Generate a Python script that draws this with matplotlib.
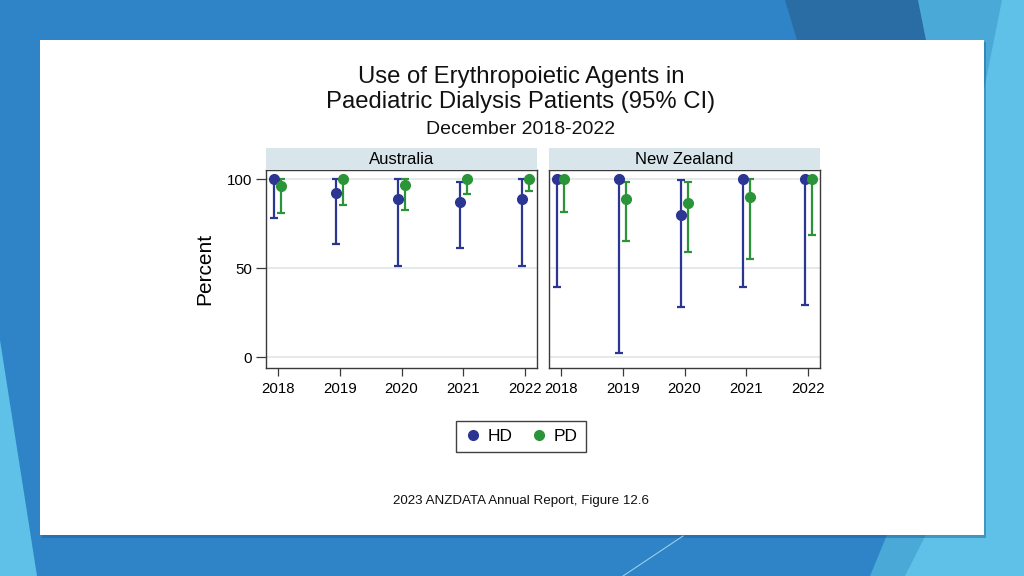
"""
Use of Erythropoietic Agents in Paediatric Dialysis Patients (95% CI)
Two-panel Stata-style dot + CI chart on a blue slide background.
"""

import matplotlib
matplotlib.use("Agg")
import matplotlib.pyplot as plt
from matplotlib.patches import Polygon, Rectangle
from matplotlib.lines import Line2D

plt.rcParams["font.family"] = ["Liberation Sans", "DejaVu Sans"]

# ── data ──────────────────────────────────────────────────────────────────────
years = [2018, 2019, 2020, 2021, 2022]
panels = ["Australia", "New Zealand"]

aus_hd = [100.0, 92.1, 88.8, 87.2, 88.8]
aus_hd_lo = [78.1, 63.8, 51.5, 61.6, 51.5]
aus_hd_hi = [100.0, 100.0, 100.0, 98.5, 100.0]
aus_pd = [96.4, 100.0, 96.6, 100.0, 100.0]
aus_pd_lo = [81.1, 85.7, 82.8, 91.6, 93.3]
aus_pd_hi = [100.0, 100.0, 100.0, 100.0, 100.0]

nz_hd = [100.0, 100.0, 79.8, 100.0, 100.0]
nz_hd_lo = [39.7, 2.2, 28.1, 39.7, 29.2]
nz_hd_hi = [100.0, 100.0, 99.6, 100.0, 100.0]
nz_pd = [100.0, 88.8, 86.5, 89.9, 100.0]
nz_pd_lo = [81.5, 65.2, 59.4, 55.4, 68.9]
nz_pd_hi = [100.0, 98.5, 98.3, 100.0, 100.0]

# ── palette ───────────────────────────────────────────────────────────────────
BG_BLUE = "#2E84C6"
DARK_BAND = "#2A6DA5"
MID_LIGHT = "#4AA9D7"
LIGHT = "#5FC1E8"
HD_COL = "#2B3592"
PD_COL = "#2B9438"
STRIP = "#D8E5EB"
GRIDC = "#E6E9EB"
FRAME = "#3A3A3A"

W, H = 1024, 576
fig = plt.figure(figsize=(W / 100, H / 100), dpi=100)
fig.patch.set_facecolor(BG_BLUE)


def px(x, y):
    # pixel coords (top-left origin) -> figure fraction
    return (x / W, 1 - y / H)


def poly(points, color, z=0):
    fig.patches.append(Polygon([px(*p) for p in points], closed=True,
                               transform=fig.transFigure, facecolor=color,
                               edgecolor="none", zorder=z))


# ── slide background decorations ──────────────────────────────────────────────
poly([(785, 0), (918, 0), (926, 40), (797, 40)], DARK_BAND)
poly([(918, 0), (1024, 0), (1024, 576), (870, 576), (984, 300), (984, 40), (926, 40)], MID_LIGHT)
poly([(1002, 0), (1024, 0), (1024, 576), (905, 576), (984, 420), (984, 90), (990, 60)], LIGHT)
poly([(0, 340), (37, 576), (0, 576)], LIGHT)
fig.add_artist(Line2D([683 / W, 623 / W], [1 - 536 / H, 0], color="#9CCBEA",
                      lw=0.8, transform=fig.transFigure))

# white card with a faint shadow
fig.patches.append(Rectangle(px(42, 538), 944 / W, 496 / H, transform=fig.transFigure,
                             facecolor="#1F5F93", alpha=0.45, edgecolor="none", zorder=1))
fig.patches.append(Rectangle(px(40, 535), 944 / W, 495 / H, transform=fig.transFigure,
                             facecolor="white", edgecolor="none", zorder=2))

# ── titles ────────────────────────────────────────────────────────────────────
fig.text(521 / W, 1 - 89.5 / H, "Use of Erythropoietic Agents in\nPaediatric Dialysis Patients (95% CI)",
         ha="center", va="center", fontsize=17.2, linespacing=1.13, color="#111111", zorder=5)
fig.text(521 / W, 1 - 129 / H, "December 2018-2022", ha="center", va="center",
         fontsize=14, color="#111111", zorder=5)

# ── panels ────────────────────────────────────────────────────────────────────
series = [
    (aus_hd, aus_hd_lo, aus_hd_hi, aus_pd, aus_pd_lo, aus_pd_hi),
    (nz_hd, nz_hd_lo, nz_hd_hi, nz_pd, nz_pd_lo, nz_pd_hi),
]
lefts = [266, 549]
ax_w, ax_top, ax_bot = 271, 170, 368
off = 0.055

for i, (name, s) in enumerate(zip(panels, series)):
    l = lefts[i]
    ax = fig.add_axes([l / W, 1 - ax_bot / H, ax_w / W, (ax_bot - ax_top) / H], zorder=6)
    ax.set_facecolor("white")
    hd, hd_lo, hd_hi, pd_, pd_lo, pd_hi = s

    for vals, lo, hi, col, dx in [(hd, hd_lo, hd_hi, HD_COL, -off),
                                  (pd_, pd_lo, pd_hi, PD_COL, off)]:
        xs = [y + dx for y in years]
        err = [[v - a for v, a in zip(vals, lo)], [b - v for v, b in zip(vals, hi)]]
        ax.errorbar(xs, vals, yerr=err, fmt="o", color=col, ecolor=col,
                    markersize=7, elinewidth=1.6, capsize=2.8, capthick=1.6, zorder=3)

    ax.set_xlim(2017.81, 2022.19)
    ax.set_ylim(-6, 105.2)
    ax.set_xticks(years)
    ax.set_xticklabels([str(y) for y in years], fontsize=10.8)
    ax.set_yticks([0, 50, 100])
    for g in [0, 50, 100]:
        ax.axhline(g, color=GRIDC, lw=1.4, zorder=1)
    ax.tick_params(axis="x", direction="out", length=6, width=0.9, color=FRAME, pad=4)
    if i == 0:
        ax.set_yticklabels(["0", "50", "100"], fontsize=10.8)
        ax.tick_params(axis="y", direction="out", length=7, width=0.9, color=FRAME, pad=3)
        ax.set_ylabel("Percent", fontsize=15)
    else:
        ax.tick_params(axis="y", length=0, labelleft=False)
    for sp in ax.spines.values():
        sp.set_color(FRAME)
        sp.set_linewidth(1.0)

    # strip header
    sax = fig.add_axes([l / W, 1 - ax_top / H, ax_w / W, 22 / H], zorder=6)
    sax.set_facecolor(STRIP)
    sax.set_xticks([])
    sax.set_yticks([])
    for sp in sax.spines.values():
        sp.set_visible(False)
    sax.text(0.5, 0.5, name, ha="center", va="center", fontsize=12, transform=sax.transAxes)

# place the y label at its reference position
fig.axes[0].yaxis.set_label_coords(-0.19, 0.5)

# ── legend ────────────────────────────────────────────────────────────────────
handles = [Line2D([], [], marker="o", ls="none", color=HD_COL, markersize=7, label="HD"),
           Line2D([], [], marker="o", ls="none", color=PD_COL, markersize=7, label="PD")]
leg = fig.legend(handles=handles, loc="center", bbox_to_anchor=(521 / W, 1 - 436.5 / H),
                 ncol=2, fontsize=12.5, frameon=True, fancybox=False, handletextpad=0.35,
                 columnspacing=1.05, handlelength=1.0, borderpad=0.45)
leg.get_frame().set_edgecolor("#111111")
leg.get_frame().set_linewidth(1.0)
leg.set_zorder(7)

fig.text(521 / W, 1 - 501 / H, "2023 ANZDATA Annual Report, Figure 12.6", ha="center",
         va="center", fontsize=9.6, color="#111111", zorder=5)

fig.savefig("out.png", dpi=100)
plt.close(fig)
